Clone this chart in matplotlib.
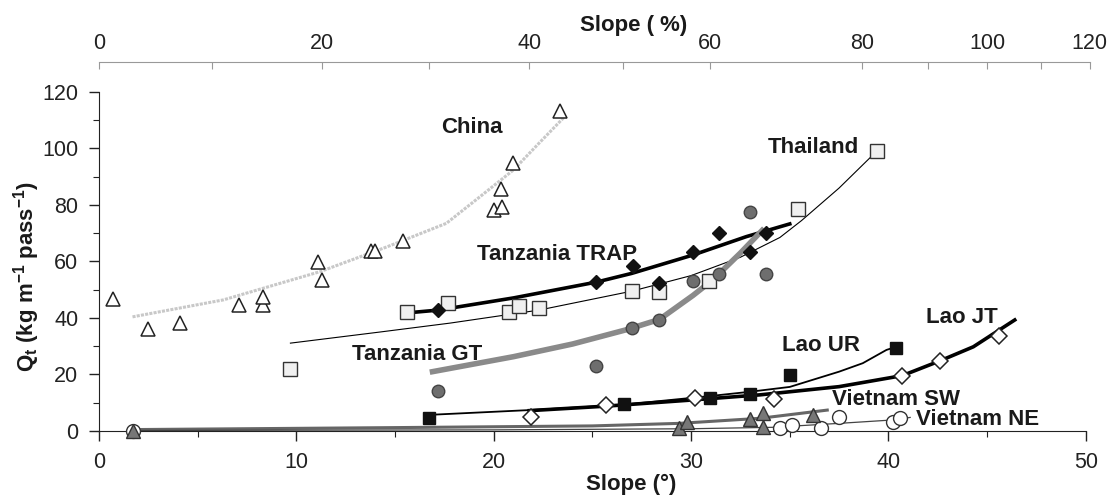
import numpy as np
import matplotlib
matplotlib.use("Agg")
import matplotlib.pyplot as plt

plt.rcParams['font.family'] = ['Liberation Sans', 'DejaVu Sans']
plt.rcParams['mathtext.default'] = 'regular'

# --- data (slope in degrees, Qt in kg m-1 pass-1) ---
china_x = [0.7, 2.5, 4.1, 7.1, 8.3, 8.3, 11.1, 11.3, 13.8, 14.0, 15.4, 20.0, 20.4, 20.35, 21.0, 23.35]
china_y = [46.6, 36.0, 38.1, 44.6, 44.6, 47.5, 59.9, 53.5, 63.7, 63.7, 67.4, 78.2, 79.4, 85.7, 95.0, 113.2]
china_fit_x = [1.7, 6.3, 11.2, 14.6, 17.6, 19.3, 21.0, 22.3, 23.6]
china_fit_y = [40.4, 46.4, 56.4, 65.2, 73.5, 82.9, 92.4, 101.9, 111.3]

thai_x = [9.7, 15.6, 17.7, 20.8, 21.3, 22.3, 27.0, 28.4, 30.9, 35.4, 39.4]
thai_y = [21.9, 42.1, 45.3, 42.1, 44.2, 43.5, 49.6, 49.2, 53.1, 78.6, 99.1]
thai_fit_x = [9.7, 14.2, 17.8, 22.3, 27.0, 30.0, 32.5, 34.5, 35.6, 37.5, 39.4]
thai_fit_y = [31.1, 35.0, 38.2, 42.8, 49.5, 55.0, 61.5, 68.5, 74.5, 86.0, 99.0]

trap_x = [17.2, 25.2, 27.05, 28.4, 30.1, 31.4, 33.0, 33.8]
trap_y = [42.8, 52.7, 58.4, 52.4, 63.4, 70.1, 63.4, 70.1]
trap_fit_x = [15.6, 17.2, 21.0, 25.2, 27.0, 30.1, 32.8, 35.0]
trap_fit_y = [41.8, 42.8, 47.1, 52.7, 55.8, 62.3, 68.8, 73.3]

gt_x = [17.2, 25.2, 27.0, 28.4, 30.1, 31.4, 33.0, 33.8]
gt_y = [14.3, 23.1, 36.4, 39.3, 53.1, 55.6, 77.5, 55.6]
gt_fit_x = [16.9, 21.0, 24.0, 26.7, 28.4, 30.1, 31.1, 32.5, 33.6]
gt_fit_y = [21.0, 26.3, 30.8, 35.8, 39.5, 48.0, 53.5, 63.0, 71.0]

laour_x = [16.7, 26.6, 30.95, 33.0, 35.0, 40.36]
laour_y = [4.7, 9.6, 11.6, 13.0, 19.8, 29.5]
laour_fit_x = [16.7, 21.8, 26.4, 31.0, 33.0, 35.0, 37.5, 38.7, 39.9, 40.4]
laour_fit_y = [5.7, 7.4, 9.2, 12.4, 13.9, 15.6, 21.0, 24.0, 28.7, 29.8]

laojt_x = [21.9, 25.7, 30.2, 34.2, 40.7, 42.6, 45.6]
laojt_y = [5.0, 9.2, 11.8, 11.2, 19.6, 24.8, 33.6]
laojt_fit_x = [21.8, 25.7, 30.1, 33.5, 37.5, 40.7, 42.6, 44.3, 46.4]
laojt_fit_y = [7.2, 8.8, 11.0, 12.8, 15.7, 19.6, 24.8, 29.8, 39.3]

vsw_x = [1.7, 29.4, 29.8, 33.0, 33.65, 33.65, 36.2]
vsw_y = [0.0, 1.2, 3.3, 4.2, 6.3, 1.3, 5.7]
vsw_fit_x = [1.7, 15.0, 25.0, 29.4, 33.5, 36.9]
vsw_fit_y = [0.5, 1.2, 1.8, 2.7, 4.5, 7.4]

vne_x = [1.7, 34.5, 35.1, 36.6, 37.5, 40.24, 40.6]
vne_y = [0.0, 0.9, 2.1, 1.2, 4.8, 3.3, 4.5]
vne_fit_x = [1.7, 20.0, 30.0, 34.1, 37.5, 40.2, 41.1]
vne_fit_y = [0.2, 0.4, 0.8, 1.3, 2.7, 3.9, 4.8]

labels = ["China", "Thailand", "Tanzania TRAP", "Tanzania GT",
          "Lao UR", "Lao JT", "Vietnam SW", "Vietnam NE"]
label_x = [18.9, 36.2, 23.2, 16.1, 36.6, 43.7, 40.4, 44.5]
label_y = [107.3, 100.5, 62.3, 26.9, 30.4, 40.0, 11.3, 4.2]

fig = plt.figure(figsize=(11.12, 4.95), dpi=100)
ax = fig.add_axes([0.089, 0.1293, 0.891, 0.7454])

# trend lines
ax.plot(china_fit_x, china_fit_y, color='#c8c8c8', lw=2.2, ls=(0, (1, 0.4)), zorder=2)
ax.plot(thai_fit_x, thai_fit_y, color='black', lw=0.8, zorder=2)
ax.plot(trap_fit_x, trap_fit_y, color='black', lw=2.6, zorder=2)
ax.plot(gt_fit_x, gt_fit_y, color='#8a8a8a', lw=4, zorder=2)
ax.plot(laour_fit_x, laour_fit_y, color='black', lw=1.3, zorder=2)
ax.plot(laojt_fit_x, laojt_fit_y, color='black', lw=2.6, zorder=2)
ax.plot(vsw_fit_x, vsw_fit_y, color='#666666', lw=2.2, zorder=2)
ax.plot(vne_fit_x, vne_fit_y, color='#444444', lw=0.9, zorder=2)

# points
mk = dict(ls='none', clip_on=False, zorder=3)
ax.plot(china_x, china_y, marker='^', ms=10, mfc='white', mec='#222222', mew=1.1, **mk)
ax.plot(thai_x, thai_y, marker='s', ms=10, mfc='#f0f0f0', mec='#333333', mew=1, **mk)
ax.plot(trap_x, trap_y, marker='D', ms=7.5, mfc='#111111', mec='#111111', **mk)
ax.plot(gt_x, gt_y, marker='o', ms=9, mfc='#6e6e6e', mec='#444444', mew=1, **mk)
ax.plot(laour_x, laour_y, marker='s', ms=9, mfc='#111111', mec='#111111', **mk)
ax.plot(laojt_x, laojt_y, marker='D', ms=8, mfc='white', mec='#222222', mew=1.1, **mk)
ax.plot(vne_x, vne_y, marker='o', ms=10, mfc='white', mec='#333333', mew=1, **mk)
ax.plot(vsw_x, vsw_y, marker='^', ms=10, mfc='#777777', mec='#333333', mew=1, **mk)

for txt, lx, ly in zip(labels, label_x, label_y):
    ax.text(lx, ly, txt, fontsize=16, fontweight='bold', color='#1a1a1a',
            ha='center', va='center', zorder=4)

# axes
ax.set_xlim(0, 50.2)
ax.set_ylim(0, 130.6)
ax.spines['right'].set_visible(False)
ax.spines['top'].set_visible(False)
ax.spines['bottom'].set_bounds(0, 50)
ax.spines['left'].set_bounds(0, 120)
ax.set_xticks(np.arange(0, 51, 10))
ax.set_xticks(np.arange(5, 50, 10), minor=True)
ax.set_yticks(np.arange(0, 121, 20))
ax.set_yticks(np.arange(10, 120, 20), minor=True)
ax.tick_params(axis='both', which='major', direction='out', length=7, width=1,
               labelsize=15.5, colors='#222222')
ax.tick_params(axis='both', which='minor', direction='out', length=4, width=0.8,
               colors='#222222')
ax.tick_params(axis='x', pad=8)
ax.tick_params(axis='y', pad=8)
for s in ['left', 'bottom']:
    ax.spines[s].set_color('#222222')

ax.text(0.537, -0.146, 'Slope (°)', transform=ax.transAxes, fontsize=16,
        fontweight='bold', ha='center', va='center', color='#1a1a1a')
ax.text(-0.073, 0.42, 'Q$_t$ (kg m$^{-1}$ pass$^{-1}$)', transform=ax.transAxes,
        fontsize=16, fontweight='bold', rotation=90, ha='center', va='center',
        color='#1a1a1a')


def deg2pct(d):
    return 100 * np.tan(np.radians(d))


def pct2deg(p):
    return np.degrees(np.arctan(np.asarray(p) / 100.0))


top = ax.secondary_xaxis('top', functions=(deg2pct, pct2deg))
top.set_xticks(np.arange(0, 121, 20))
top.set_xticks([10, 30, 50, 90, 110], minor=True)
top.tick_params(which='major', direction='in', length=5, width=0.8, colors='#999999',
                labelsize=15.5, labelcolor='#222222', pad=6)
top.tick_params(which='minor', direction='in', length=5, width=0.8, colors='#999999')
top.spines['top'].set_color('#999999')
ax.text(0.540, 1.10, 'Slope ( %)', transform=ax.transAxes, fontsize=16,
        fontweight='bold', ha='center', va='center', color='#1a1a1a')

fig.savefig('out.png', dpi=100)
